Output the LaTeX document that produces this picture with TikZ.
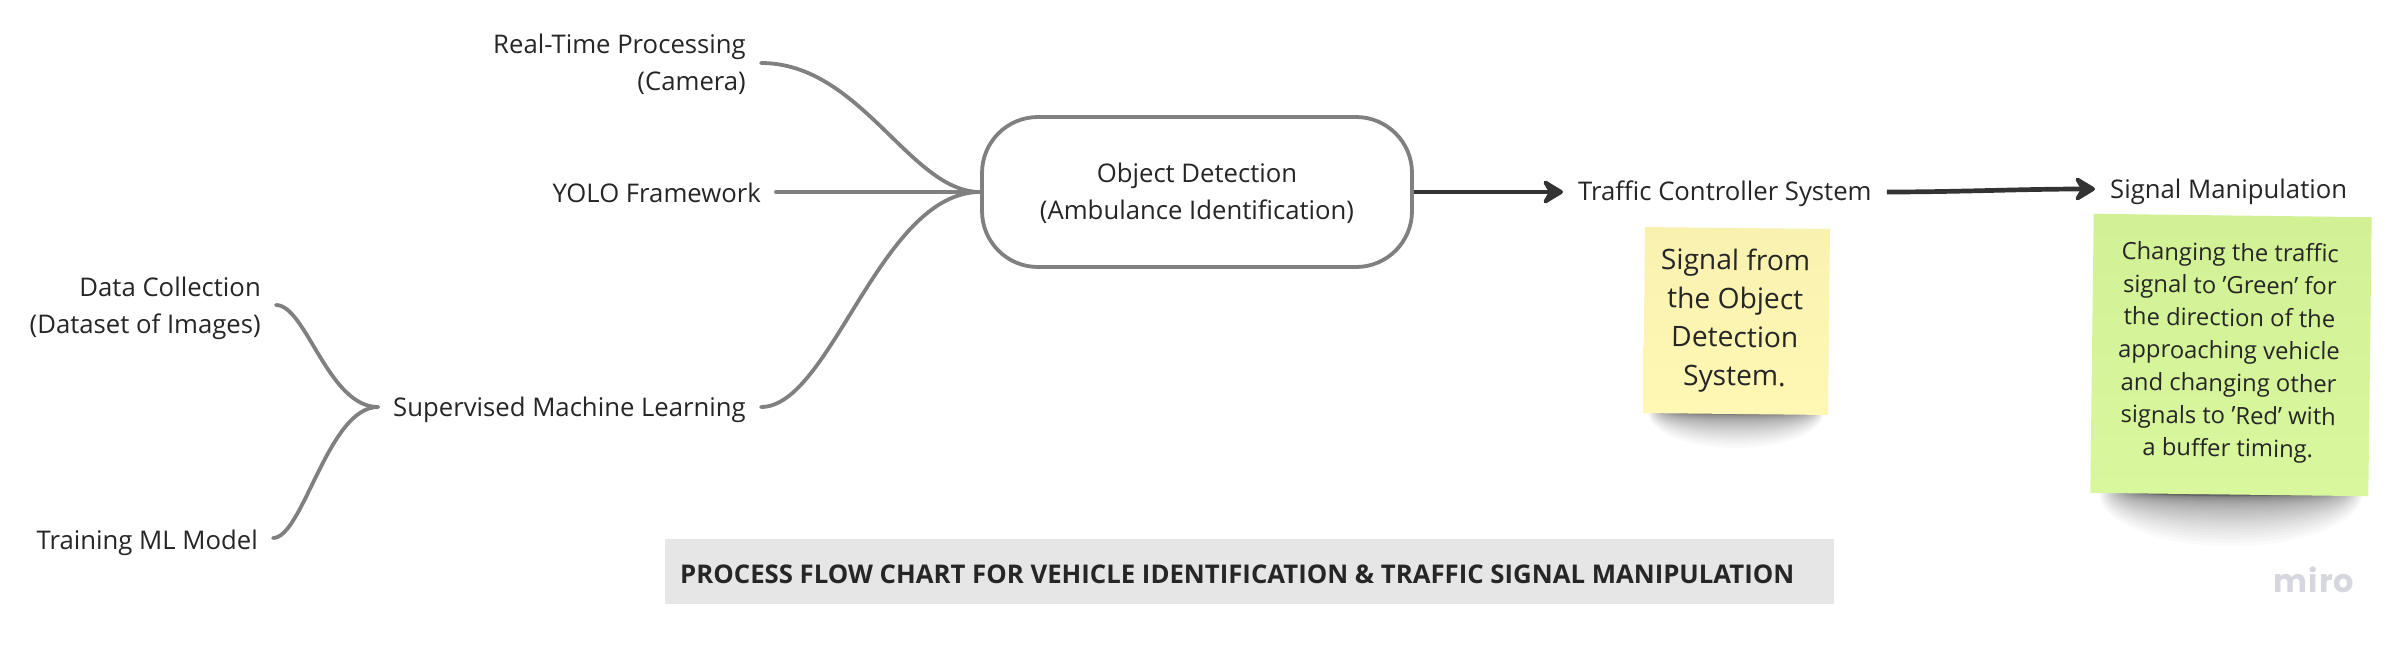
\documentclass[tikz,border=0pt]{standalone}
\usepackage{fontspec}
\setmainfont{Open Sans}
\newfontfamily\logofont[LetterSpace=3]{Poppins}
\usetikzlibrary{arrows.meta}
\definecolor{inkc}{HTML}{262626}
\definecolor{linec}{HTML}{808080}
\definecolor{arrowc}{HTML}{333333}
\definecolor{titlebg}{HTML}{E6E6E6}
\definecolor{logoc}{HTML}{D6D6DE}
\definecolor{yellowa}{HTML}{F9F1B0}
\definecolor{yellowb}{HTML}{FFF8B4}
\definecolor{greena}{HTML}{D2F094}
\definecolor{greenb}{HTML}{D9F79D}
\newcommand{\lift}[1]{\rule{0pt}{#1pt}}
\tikzset{
  x=1pt,y=-1pt,
  every node/.style={text=inkc},
  lbl/.style={inner ysep=0pt,inner xsep=15pt,align=right,font=\fontsize{25.7}{37}\selectfont},
  link/.style={draw=linec,line width=3.8pt,line cap=round},
  flow/.style={draw=arrowc,line width=4.7pt,-{Stealth[round,length=25pt,width=30pt,inset=9pt]}},
  core/.style={draw=linec,line width=3.8pt,fill=white,rounded corners=56pt,minimum width=430pt,minimum height=150pt,align=center,inner sep=0pt,font=\fontsize{25.7}{36.5}\selectfont},
  notea/.style={inner sep=0pt,minimum width=185pt,minimum height=186pt,rotate=-0.6,top color=yellowa,bottom color=yellowb},
  noteb/.style={inner sep=0pt,minimum width=278pt,minimum height=279pt,rotate=-0.7,top color=greena,bottom color=greenb},
  notetexta/.style={inner sep=0pt,rotate=-0.6,align=center,font=\fontsize{28.2}{38.5}\selectfont},
  notetextb/.style={inner sep=0pt,rotate=-0.7,align=center,font=\fontsize{23.8}{32.6}\selectfont},
  shadowpart/.style={fill=black,fill opacity=0.018,draw=none},
}
\begin{document}
\begin{tikzpicture}
\useasboundingbox (0,0) rectangle (2408,648);
\fill[white] (0,0) rectangle (2408,648);

% text nodes
\node[lbl,anchor=east] (rt) at (761,63) {\lift{22.5}Real-Time Processing\\(Camera)};
\node[lbl,anchor=east] (yolo) at (776,192) {\lift{21.5}YOLO Framework};
\node[lbl,anchor=east] (sml) at (761,407) {\lift{25.5}Supervised Machine Learning};
\node[lbl,anchor=east] (data) at (276,305) {\lift{25.5}Data Collection\\(Dataset of Images)};
\node[lbl,anchor=east] (train) at (273,538) {\lift{28.5}Training ML Model};
\node[core] (obj) at (1197,192) {\lift{22.5}Object Detection\\(Ambulance Identification)};
\node[lbl,anchor=west] (tcs) at (1563,192) {\lift{22.5}Traffic Controller System};
\node[lbl,anchor=west] (sig) at (2095,189) {\lift{25.5}Signal Manipulation};

% connectors
\draw[link] (rt.east) .. controls +(100,0) and +(-70,0) .. (obj.west);
\draw[link] (yolo.east) -- (obj.west);
\draw[link] (sml.east) .. controls +(70,0) and +(-100,0) .. (obj.west);
\draw[link] (data.east) .. controls +(30,0) and +(-50,0) .. (sml.west);
\draw[link] (train.east) .. controls +(30,0) and +(-50,0) .. (sml.west);
\draw[flow] (obj.east) -- (tcs.west);
\draw[flow] (tcs.east) .. controls +(70,0) and +(-70,0) .. (sig.west);

% sticky note shadows
\foreach \i in {1,...,40}{
  \pgfmathsetmacro{\tt}{\i/40}
  \pgfmathsetmacro{\rya}{2+34*\tt*\tt*\tt}
  \pgfmathsetmacro{\rxa}{55+33*\tt}
  \pgfmathsetmacro{\ryb}{3+50*\tt*\tt*\tt}
  \pgfmathsetmacro{\rxb}{80+52*\tt}
  \fill[shadowpart] (1736,412) ellipse ({\rxa} and {\rya});
  \fill[shadowpart] (2231,493) ellipse ({\rxb} and {\ryb});
}

% sticky notes
\node[notea] (yn) at (1736.5,321) {};
\node[noteb] (gn) at (2231,355) {};
\node[notetexta] (yt) at (1735,320.5) {Signal from\\the Object\\Detection\\System.};
\node[notetextb] (gt) at (2229,352.5) {Changing the traffic\\signal to 'Green' for\\the direction of the\\approaching vehicle\\and changing other\\signals to 'Red' with\\a buffer timing.};

% title
\node[fill=titlebg,minimum width=1169pt,minimum height=65pt,inner sep=0pt] (titlebox) at (1249.5,571.5) {};
\node[anchor=west,inner sep=0pt,font=\fontsize{25.75}{30}\selectfont\bfseries] (title) at (680,574) {PROCESS FLOW CHART FOR VEHICLE IDENTIFICATION \& TRAFFIC SIGNAL MANIPULATION};

% logo
\node[inner sep=0pt,anchor=base,text=logoc,font=\fontsize{32}{36}\logofont\bfseries] (logo) at (2314,592) {miro};
\end{tikzpicture}
\end{document}
